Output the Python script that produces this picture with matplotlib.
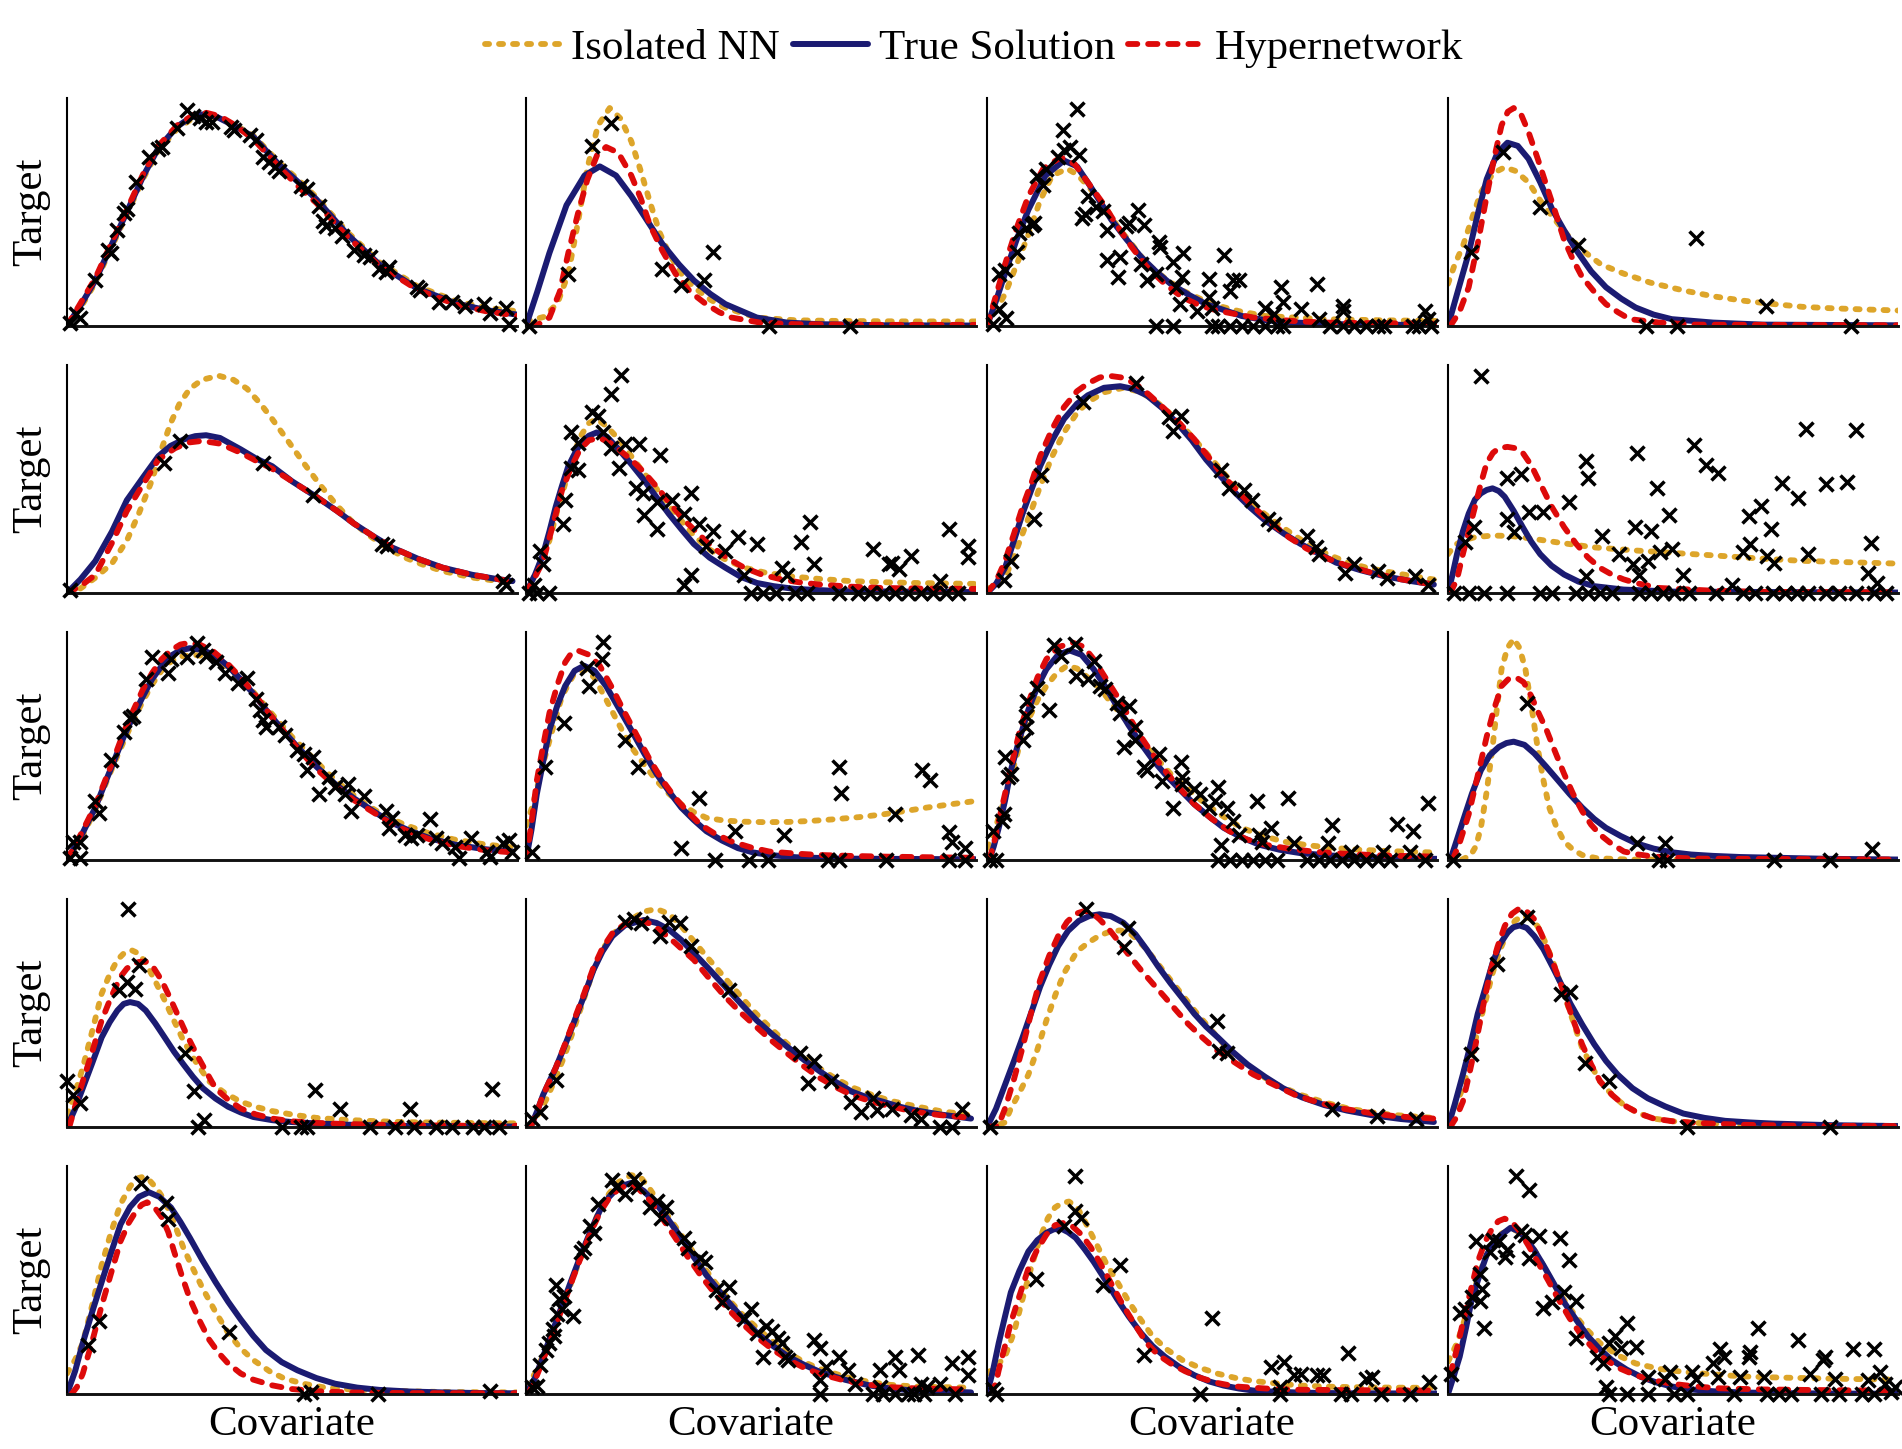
import matplotlib
matplotlib.use("Agg")
import matplotlib.pyplot as plt

plt.rcParams['font.family'] = ['Liberation Serif', 'DejaVu Serif']

# ---------------- data (x: fraction of covariate range, y: fraction of panel height) -------------
LABELS = ["Isolated NN", "True Solution", "Hypernetwork"]
XLABEL = "Covariate"
YLABEL = "Target"

# Row 1
P11_ISO = [(0,0),(.03,.08),(.063,.19),(.1,.35),(.133,.49),(.17,.65),(.203,.77),(.245,.865),(.275,.905),(.31,.92),(.34,.912),(.37,.885),(.414,.835),(.47,.72),(.52,.63),(.554,.565),(.624,.41),(.694,.28),(.778,.175),(.863,.11),(.93,.08),(1.0,.065)]
P11_TRUE = [(0,0),(.03,.09),(.063,.2),(.1,.36),(.133,.5),(.17,.66),(.203,.78),(.245,.875),(.275,.915),(.30,.928),(.33,.92),(.37,.88),(.414,.83),(.47,.71),(.52,.62),(.554,.556),(.624,.40),(.694,.27),(.778,.165),(.863,.10),(.93,.07),(1.0,.05)]
P11_HYP = [(0,0),(.03,.1),(.063,.21),(.1,.37),(.133,.51),(.17,.67),(.203,.79),(.245,.88),(.28,.925),(.31,.935),(.34,.92),(.37,.885),(.414,.82),(.47,.70),(.52,.60),(.554,.54),(.624,.39),(.694,.265),(.778,.16),(.863,.095),(.93,.065),(1.0,.045)]
P11_PTS = [(.007,.015),(.021,.052),(.028,.037),(.063,.2),(.091,.333),(.098,.319),(.112,.422),(.126,.496),(.133,.511),(.154,.63),(.182,.741),(.203,.778),(.21,.785),(.245,.867),(.266,.948),(.281,.919),(.295,.911),(.309,.896),(.323,.896),(.365,.874),(.372,.859),(.407,.837),(.42,.815),(.435,.741),(.449,.719),(.463,.696),(.47,.681),(.519,.615),(.533,.6),(.561,.526),(.568,.459),(.575,.437),(.596,.43),(.61,.393),(.638,.333),(.659,.311),(.673,.304),(.694,.252),(.708,.237),(.715,.259),(.778,.17),(.785,.156),(.827,.104),(.856,.104),(.884,.089),(.926,.096),(.94,.059),(.975,.081),(.982,.007)]

P12_ISO = [(0,.02),(.04,.04),(.07,.1),(.094,.23),(.115,.45),(.136,.69),(.16,.88),(.186,.956),(.21,.91),(.234,.81),(.255,.68),(.276,.54),(.297,.41),(.317,.32),(.345,.23),(.373,.17),(.41,.115),(.443,.08),(.513,.037),(.6,.025),(.7,.022),(.85,.02),(1.0,.02)]
P12_TRUE = [(0,0),(.025,.15),(.052,.32),(.09,.53),(.13,.66),(.164,.70),(.2,.66),(.234,.57),(.27,.46),(.303,.36),(.34,.27),(.373,.20),(.41,.14),(.443,.096),(.513,.037),(.58,.015),(.65,.008),(.8,.003),(1.0,.002)]
P12_HYP = [(.01,0),(.03,.01),(.052,.037),(.075,.15),(.094,.32),(.115,.49),(.136,.64),(.158,.75),(.178,.785),(.205,.76),(.234,.66),(.255,.56),(.276,.44),(.303,.33),(.332,.23),(.365,.15),(.40,.096),(.43,.06),(.457,.037),(.52,.015),(.6,.008),(.8,.005),(1.0,.005)]
P12_PTS = [(.007,0),(.094,.23),(.146,.79),(.188,.89),(.303,.25),(.345,.18),(.395,.20),(.415,.326),(.539,0),(.72,0)]

P13_ISO = [(0,.01),(.02,.07),(.04,.14),(.066,.27),(.09,.39),(.118,.55),(.145,.66),(.178,.69),(.2,.665),(.224,.615),(.26,.53),(.29,.437),(.325,.35),(.355,.274),(.395,.21),(.434,.156),(.473,.12),(.513,.089),(.56,.065),(.618,.044),(.75,.03),(.88,.025),(1.0,.022)]
P13_TRUE = [(0,0),(.02,.11),(.04,.23),(.066,.38),(.092,.51),(.13,.66),(.171,.726),(.2,.70),(.224,.63),(.25,.55),(.276,.467),(.31,.38),(.342,.304),(.375,.24),(.408,.185),(.45,.135),(.487,.096),(.566,.044),(.62,.025),(.684,.015),(.8,.007),(1.0,.004)]
P13_HYP = [(0,0),(.015,.1),(.04,.27),(.066,.43),(.092,.57),(.125,.69),(.164,.74),(.195,.71),(.224,.63),(.257,.54),(.29,.437),(.322,.345),(.355,.26),(.395,.185),(.434,.126),(.473,.09),(.513,.067),(.592,.037),(.68,.022),(.75,.015),(.88,.012),(1.0,.01)]
P13_PTS = [(.013,.007),(.026,.074),(.042,.037),(.026,.23),(.04,.244),(.066,.326),(.072,.407),(.086,.43),(.099,.444),(.105,.452),(.112,.66),(.125,.62),(.132,.69),(.158,.74),(.168,.86),(.171,.77),(.184,.785),(.2,.953),(.204,.748),(.224,.57),(.217,.49),(.21,.474),(.243,.52),(.257,.504),(.266,.42),(.266,.29),(.296,.304),(.292,.215),(.309,.437),(.316,.452),(.336,.51),(.349,.444),(.342,.274),(.355,.2),(.382,.37),(.384,.348),(.375,.23),(.414,.28),(.436,.318),(.421,.17),(.428,.096),(.434,.215),(.466,.067),(.493,.207),(.493,.126),(.5,.081),(.526,.311),(.54,.155),(.546,.2),(.559,.2),(.618,.081),(.638,.052),(.654,.17),(.658,.104),(.697,.074),(.733,.185),(.737,.03),(.79,.089),(.792,.067),(.974,.067),(.98,.03),(.96,0),(.375,0),(.414,0),(.5,0),(.513,0),(.54,0),(.566,0),(.592,0),(.618,0),(.645,0),(.658,0),(.763,0),(.79,0),(.816,0),(.842,0),(.868,0),(.882,0),(.947,0),(.987,0)]

P14_ISO = [(0,.185),(.015,.27),(.033,.35),(.053,.47),(.073,.585),(.1,.67),(.126,.696),(.15,.68),(.179,.63),(.205,.55),(.232,.48),(.265,.40),(.298,.333),(.34,.27),(.39,.23),(.45,.19),(.523,.156),(.59,.13),(.656,.111),(.72,.097),(.788,.084),(.85,.078),(.92,.073),(1.0,.068)]
P14_TRUE = [(0,0),(.02,.14),(.046,.32),(.066,.49),(.086,.644),(.11,.76),(.132,.804),(.155,.79),(.179,.733),(.205,.63),(.232,.51),(.258,.42),(.285,.333),(.318,.24),(.351,.17),(.385,.12),(.417,.081),(.457,.05),(.497,.03),(.589,.015),(.7,.006),(1.0,.003)]
P14_HYP = [(.005,0),(.025,.06),(.046,.17),(.066,.36),(.086,.57),(.103,.74),(.119,.88),(.133,.94),(.146,.956),(.162,.93),(.179,.85),(.2,.73),(.219,.615),(.24,.49),(.258,.378),(.278,.29),(.298,.215),(.325,.15),(.351,.096),(.378,.06),(.404,.03),(.47,.015),(.55,.006),(1.0,.003)]
P14_PTS = [(.05,.326),(.122,.763),(.205,.52),(.288,.356),(.55,.385),(.706,.089),(.44,0),(.509,0),(.895,0)]

# Row 2
P21_ISO = [(0,0),(.03,.02),(.063,.067),(.1,.13),(.133,.23),(.16,.35),(.189,.496),(.21,.63),(.231,.748),(.25,.83),(.273,.896),(.3,.935),(.337,.953),(.37,.935),(.4,.896),(.43,.83),(.456,.763),(.49,.67),(.526,.57),(.56,.48),(.596,.393),(.63,.32),(.666,.26),(.71,.2),(.75,.156),(.79,.125),(.835,.096),(.9,.068),(.99,.044)]
P21_TRUE = [(0,0),(.03,.06),(.063,.14),(.1,.27),(.133,.407),(.17,.51),(.203,.60),(.23,.645),(.26,.674),(.285,.688),(.309,.692),(.34,.68),(.386,.63),(.42,.59),(.456,.556),(.5,.49),(.554,.422),(.6,.36),(.638,.304),(.68,.25),(.722,.20),(.78,.15),(.835,.111),(.9,.08),(.95,.063),(.99,.052)]
P21_HYP = [(0,0),(.03,.03),(.063,.08),(.1,.22),(.133,.36),(.17,.48),(.203,.585),(.24,.635),(.27,.66),(.30,.667),(.34,.655),(.386,.615),(.42,.58),(.456,.545),(.5,.49),(.554,.422),(.6,.36),(.638,.304),(.68,.25),(.722,.2),(.78,.15),(.835,.111),(.9,.08),(.99,.05)]
P21_PTS = [(.007,.015),(.215,.57),(.252,.667),(.435,.57),(.547,.43),(.701,.215),(.711,.207),(.968,.052),(.975,.037)]

P22_ISO = [(0,0),(.025,.1),(.052,.23),(.072,.38),(.094,.526),(.108,.62),(.122,.69),(.14,.745),(.157,.763),(.18,.73),(.206,.674),(.234,.6),(.262,.526),(.297,.44),(.332,.348),(.365,.27),(.401,.2),(.44,.15),(.485,.111),(.53,.09),(.583,.074),(.65,.062),(.723,.052),(.8,.047),(.863,.044),(.93,.042),(1.0,.04)]
P22_TRUE = [(0,0),(.02,.08),(.038,.17),(.052,.27),(.066,.378),(.08,.47),(.094,.556),(.108,.61),(.122,.66),(.14,.69),(.157,.704),(.18,.685),(.206,.63),(.234,.565),(.262,.496),(.29,.42),(.317,.348),(.345,.28),(.373,.215),(.408,.155),(.443,.111),(.478,.07),(.513,.044),(.55,.03),(.597,.018),(.7,.008),(1.0,.004)]
P22_HYP = [(0,0),(.02,.07),(.038,.14),(.06,.3),(.08,.45),(.1,.55),(.12,.63),(.14,.67),(.164,.68),(.19,.655),(.215,.615),(.234,.585),(.262,.53),(.29,.467),(.317,.4),(.345,.333),(.38,.265),(.415,.2),(.45,.15),(.485,.111),(.525,.08),(.569,.059),(.61,.046),(.653,.037),(.72,.028),(.793,.022),(.9,.019),(1.0,.018)]
P22_PTS = [(.21,.956),(.189,.874),(.147,.793),(.161,.778),(.1,.704),(.115,.66),(.1,.548),(.115,.541),(.087,.407),(.083,.304),(.031,.185),(.038,.126),(.017,.037),(.007,0),(.024,0),(.052,0),(.171,.704),(.189,.637),(.22,.652),(.25,.652),(.206,.548),(.297,.607),(.245,.459),(.259,.437),(.29,.4),(.263,.34),(.29,.28),(.324,.407),(.366,.437),(.352,.348),(.385,.304),(.415,.274),(.401,.207),(.366,.081),(.352,.037),(.443,.185),(.471,.244),(.513,.215),(.485,.081),(.569,.111),(.58,.081),(.611,.222),(.632,.311),(.639,.126),(.772,.193),(.807,.126),(.814,.133),(.828,.104),(.856,.163),(.919,.052),(.94,.281),(.982,.207),(.982,.156),(.499,0),(.527,0),(.555,0),(.597,0),(.625,0),(.695,0),(.737,0),(.765,0),(.793,0),(.821,0),(.849,0),(.877,0),(.905,0),(.933,0),(.961,0)]

P23_ISO = [(0,.01),(.013,.037),(.04,.067),(.06,.16),(.079,.26),(.1,.37),(.118,.467),(.145,.6),(.171,.704),(.2,.79),(.224,.837),(.26,.88),(.303,.9),(.335,.885),(.368,.852),(.4,.8),(.434,.733),(.467,.66),(.5,.585),(.533,.51),(.566,.437),(.605,.365),(.645,.304),(.685,.25),(.724,.2),(.765,.163),(.803,.133),(.842,.112),(.882,.096),(.94,.076),(.993,.059)]
P23_TRUE = [(0,0),(.02,.04),(.04,.11),(.06,.23),(.079,.348),(.1,.46),(.118,.556),(.145,.67),(.171,.763),(.2,.83),(.224,.867),(.26,.9),(.296,.907),(.325,.895),(.355,.867),(.39,.81),(.421,.748),(.455,.67),(.487,.585),(.52,.51),(.553,.437),(.585,.375),(.618,.318),(.66,.26),(.697,.215),(.74,.17),(.776,.133),(.83,.1),(.882,.074),(.94,.053),(.993,.037)]
P23_HYP = [(0,0),(.02,.05),(.04,.14),(.06,.26),(.079,.378),(.1,.49),(.118,.6),(.145,.72),(.171,.815),(.2,.885),(.224,.919),(.25,.945),(.27,.953),(.3,.945),(.329,.919),(.36,.87),(.395,.807),(.43,.74),(.461,.674),(.495,.59),(.526,.511),(.56,.44),(.592,.378),(.63,.31),(.671,.244),(.71,.195),(.75,.156),(.8,.12),(.855,.089),(.92,.06),(.993,.037)]
P23_PTS = [(.037,.059),(.053,.14),(.105,.326),(.121,.518),(.214,.837),(.332,.919),(.405,.77),(.414,.711),(.432,.778),(.52,.54),(.537,.459),(.572,.452),(.589,.407),(.625,.326),(.638,.304),(.71,.252),(.73,.2),(.737,.17),(.796,.089),(.816,.126),(.868,.096),(.888,.067),(.95,.074),(.98,.037)]

P24_ISO = [(0,.17),(.015,.21),(.033,.23),(.06,.245),(.099,.252),(.14,.25),(.192,.237),(.25,.22),(.325,.2),(.42,.186),(.523,.173),(.59,.165),(.656,.156),(.72,.148),(.788,.141),(.89,.135),(1.0,.129)]
P24_TRUE = [(0,0),(.01,.08),(.02,.17),(.033,.27),(.046,.348),(.06,.41),(.073,.437),(.086,.452),(.099,.459),(.113,.447),(.126,.422),(.146,.36),(.166,.289),(.185,.225),(.205,.17),(.23,.12),(.258,.081),(.29,.05),(.325,.03),(.39,.015),(.5,.006),(1.0,.002)]
P24_HYP = [(.005,0),(.02,.06),(.033,.17),(.046,.27),(.06,.378),(.073,.48),(.086,.57),(.1,.615),(.113,.635),(.132,.641),(.15,.635),(.166,.615),(.185,.56),(.205,.48),(.23,.38),(.258,.289),(.285,.215),(.311,.156),(.338,.11),(.364,.081),(.39,.06),(.417,.044),(.47,.022),(.589,.01),(.7,.005),(1.0,.003)]
P24_PTS = [(.073,.953),(.037,.222),(.057,.289),(.132,.504),(.163,.523),(.13,.326),(.146,.267),(.179,.356),(.212,.356),(.268,.4),(.307,.578),(.311,.504),(.307,.074),(.342,.252),(.38,.17),(.415,.289),(.421,.615),(.411,.126),(.444,.141),(.45,.274),(.424,.081),(.464,.459),(.49,.341),(.47,.178),(.497,.193),(.523,.081),(.547,.647),(.573,.563),(.6,.526),(.632,.037),(.656,.178),(.672,.215),(.669,.336),(.695,.381),(.717,.281),(.709,.163),(.724,.133),(.742,.481),(.777,.415),(.795,.719),(.801,.173),(.841,.477),(.887,.489),(.907,.716),(.94,.218),(.934,.089),(.954,.044),(.013,0),(.046,0),(.079,0),(.132,0),(.205,0),(.232,0),(.285,0),(.311,0),(.338,0),(.364,0),(.424,0),(.45,0),(.477,0),(.503,0),(.536,0),(.596,0),(.656,0),(.682,0),(.722,0),(.748,0),(.775,0),(.801,0),(.841,0),(.868,0),(.907,0),(.947,0),(.974,0)]

# Row 3
P31_ISO = [(0,0),(.03,.09),(.063,.22),(.085,.33),(.105,.425),(.126,.52),(.147,.61),(.168,.695),(.189,.77),(.21,.83),(.231,.87),(.252,.893),(.28,.9),(.31,.893),(.34,.87),(.37,.825),(.4,.77),(.43,.7),(.46,.63),(.5,.54),(.54,.46),(.58,.38),(.62,.31),(.66,.25),(.7,.2),(.75,.155),(.8,.12),(.86,.09),(.93,.068),(.99,.055)]
P31_TRUE = [(0,0),(.03,.1),(.063,.23),(.085,.34),(.105,.437),(.126,.54),(.147,.63),(.168,.715),(.189,.793),(.21,.85),(.231,.896),(.252,.92),(.273,.929),(.3,.922),(.33,.896),(.358,.85),(.386,.793),(.414,.73),(.442,.659),(.477,.575),(.512,.496),(.554,.41),(.596,.333),(.638,.27),(.68,.215),(.72,.165),(.764,.126),(.81,.093),(.863,.067),(.93,.047),(.99,.037)]
P31_HYP = [(0,0),(.03,.11),(.063,.24),(.085,.35),(.105,.45),(.126,.56),(.147,.655),(.168,.745),(.189,.82),(.21,.88),(.231,.92),(.252,.945),(.27,.952),(.295,.945),(.325,.915),(.355,.865),(.386,.8),(.414,.735),(.442,.66),(.477,.575),(.512,.49),(.554,.4),(.596,.325),(.638,.262),(.68,.21),(.72,.16),(.764,.12),(.81,.088),(.863,.062),(.93,.043),(.99,.033)]
P31_PTS = [(.007,.007),(.028,.007),(.014,.081),(.028,.081),(.063,.26),(.07,.207),(.098,.437),(.126,.563),(.14,.622),(.147,.63),(.175,.793),(.189,.889),(.224,.822),(.231,.881),(.266,.889),(.288,.953),(.302,.919),(.309,.896),(.33,.867),(.351,.822),(.379,.778),(.4,.8),(.421,.704),(.428,.659),(.435,.615),(.442,.585),(.47,.585),(.484,.548),(.512,.481),(.526,.467),(.533,.393),(.547,.452),(.561,.289),(.582,.363),(.596,.319),(.617,.289),(.624,.333),(.631,.215),(.659,.281),(.708,.215),(.722,.185),(.715,.141),(.75,.111),(.764,.096),(.778,.111),(.806,.178),(.82,.096),(.834,.074),(.863,.059),(.87,.007),(.898,.096),(.933,.037),(.94,.015),(.968,.074),(.982,.089),(.989,.037)]

P32_ISO = [(0,.15),(.015,.24),(.038,.422),(.06,.58),(.08,.719),(.105,.81),(.129,.837),(.152,.8),(.178,.704),(.205,.6),(.234,.496),(.262,.42),(.29,.348),(.318,.29),(.345,.244),(.373,.21),(.401,.185),(.44,.173),(.485,.168),(.53,.166),(.583,.167),(.63,.171),(.681,.178),(.74,.188),(.793,.2),(.84,.214),(.891,.23),(.95,.246),(1.0,.259)]
P32_TRUE = [(0,0),(.012,.13),(.024,.289),(.038,.43),(.052,.57),(.07,.68),(.087,.763),(.108,.83),(.129,.852),(.152,.83),(.178,.763),(.205,.67),(.234,.57),(.262,.47),(.29,.378),(.318,.3),(.345,.23),(.373,.175),(.401,.126),(.436,.085),(.471,.052),(.505,.033),(.541,.022),(.6,.012),(.7,.006),(1.0,.003)]
P32_HYP = [(0,0),(.012,.16),(.024,.348),(.038,.5),(.052,.644),(.07,.77),(.087,.867),(.1,.905),(.115,.919),(.14,.9),(.164,.852),(.19,.76),(.22,.644),(.248,.54),(.276,.437),(.303,.35),(.331,.274),(.36,.21),(.387,.156),(.42,.115),(.457,.081),(.5,.055),(.541,.037),(.6,.028),(.653,.022),(.72,.018),(.793,.015),(.9,.012),(1.0,.01)]
P32_PTS = [(.014,.037),(.042,.407),(.084,.6),(.14,.763),(.136,.844),(.168,.881),(.171,.956),(.22,.526),(.248,.407),(.385,.274),(.345,.052),(.42,0),(.464,.126),(.496,0),(.538,0),(.573,.111),(.67,0),(.695,.41),(.7,.296),(.695,0),(.8,0),(.821,.203),(.88,.393),(.898,.351),(.94,.123),(.947,.081),(.975,.052),(.94,0),(.975,0)]

P33_ISO = [(0,.052),(.013,.11),(.026,.185),(.04,.27),(.053,.363),(.072,.5),(.092,.615),(.112,.7),(.132,.763),(.155,.82),(.178,.852),(.2,.84),(.224,.8),(.25,.755),(.276,.689),(.31,.61),(.342,.526),(.375,.45),(.408,.378),(.447,.31),(.487,.244),(.526,.19),(.566,.141),(.61,.108),(.658,.081),(.716,.064),(.776,.052),(.83,.045),(.882,.04),(.94,.036),(.993,.033)]
P33_TRUE = [(.005,0),(.015,.06),(.026,.14),(.04,.26),(.053,.393),(.072,.53),(.092,.659),(.112,.76),(.132,.837),(.158,.9),(.184,.919),(.21,.9),(.237,.837),(.263,.76),(.289,.674),(.315,.59),(.342,.511),(.368,.44),(.395,.378),(.428,.31),(.461,.244),(.494,.19),(.526,.141),(.565,.1),(.605,.067),(.65,.045),(.697,.03),(.76,.02),(.816,.015),(.9,.008),(1.0,.005)]
P33_HYP = [(.005,0),(.015,.07),(.026,.17),(.04,.29),(.053,.407),(.072,.56),(.092,.689),(.112,.8),(.132,.881),(.16,.935),(.191,.953),(.215,.935),(.237,.881),(.263,.8),(.289,.719),(.315,.63),(.342,.541),(.368,.465),(.395,.393),(.428,.315),(.461,.244),(.5,.18),(.539,.126),(.578,.09),(.618,.067),(.67,.05),(.724,.037),(.79,.028),(.855,.022),(.92,.018),(.993,.015)]
P33_PTS = [(.007,0),(.02,0),(.013,.126),(.033,.17),(.037,.2),(.046,.363),(.053,.378),(.039,.452),(.079,.526),(.086,.585),(.086,.63),(.089,.696),(.112,.756),(.138,.659),(.149,.941),(.164,.896),(.195,.948),(.197,.807),(.224,.793),(.237,.874),(.25,.763),(.263,.748),(.289,.689),(.296,.644),(.316,.674),(.305,.496),(.329,.585),(.329,.526),(.349,.407),(.355,.393),(.382,.467),(.388,.348),(.414,.23),(.434,.363),(.432,.43),(.434,.333),(.461,.311),(.474,.289),(.493,.23),(.507,.259),(.513,.319),(.533,.23),(.546,.17),(.52,.067),(.559,.111),(.601,.259),(.605,.111),(.612,.081),(.632,.141),(.668,.274),(.682,.074),(.757,.074),(.767,.153),(.809,.037),(.879,.037),(.912,.156),(.947,.126),(.941,.037),(.98,.252),(.513,0),(.539,0),(.566,0),(.592,0),(.618,0),(.645,0),(.711,0),(.737,0),(.763,0),(.789,0),(.816,0),(.842,0),(.868,0),(.895,0),(.974,0)]

P34_ISO = [(0,0),(.03,.001),(.05,.02),(.062,.06),(.073,.141),(.086,.3),(.099,.496),(.109,.67),(.119,.837),(.132,.93),(.146,.97),(.159,.93),(.172,.837),(.185,.68),(.199,.496),(.212,.35),(.225,.23),(.24,.15),(.258,.081),(.278,.045),(.298,.022),(.33,.008),(.4,.002),(1.0,0)]
P34_TRUE = [(.005,0),(.02,.09),(.033,.17),(.053,.29),(.073,.393),(.093,.46),(.113,.496),(.13,.513),(.146,.519),(.17,.505),(.192,.467),(.218,.41),(.245,.348),(.27,.29),(.298,.23),(.325,.18),(.351,.141),(.384,.105),(.417,.074),(.457,.05),(.497,.034),(.54,.024),(.589,.018),(.65,.013),(.722,.01),(.85,.005),(1.0,.002)]
P34_HYP = [(.01,0),(.025,.07),(.046,.2),(.066,.37),(.086,.541),(.102,.66),(.119,.763),(.135,.795),(.152,.8),(.168,.78),(.185,.719),(.2,.65),(.219,.57),(.238,.475),(.258,.378),(.278,.29),(.298,.215),(.318,.155),(.338,.111),(.364,.07),(.391,.037),(.42,.025),(.457,.015),(.55,.006),(1.0,.002)]
P34_PTS = [(.011,0),(.176,.689),(.42,.074),(.483,.074),(.468,0),(.486,0),(.725,0),(.849,0),(.943,.047)]

# Row 4
P41_ISO = [(0,.052),(.018,.15),(.035,.26),(.056,.42),(.077,.585),(.095,.67),(.112,.733),(.128,.765),(.144,.775),(.16,.76),(.175,.719),(.196,.64),(.217,.556),(.238,.465),(.259,.378),(.288,.28),(.316,.2),(.35,.15),(.386,.111),(.42,.088),(.456,.07),(.505,.053),(.554,.04),(.62,.031),(.694,.025),(.76,.021),(.835,.019),(.92,.017),(.996,.016)]
P41_TRUE = [(0,0),(.018,.08),(.035,.17),(.056,.28),(.077,.393),(.095,.46),(.112,.511),(.126,.54),(.14,.548),(.158,.54),(.175,.511),(.196,.455),(.217,.393),(.238,.33),(.259,.274),(.28,.22),(.302,.17),(.33,.125),(.358,.089),(.386,.064),(.414,.044),(.456,.03),(.498,.022),(.56,.015),(.624,.01),(.75,.005),(1.0,.002)]
P41_HYP = [(.005,0),(.018,.09),(.035,.2),(.056,.33),(.077,.467),(.098,.57),(.119,.659),(.133,.695),(.147,.716),(.16,.724),(.175,.726),(.192,.7),(.21,.644),(.228,.57),(.245,.496),(.266,.405),(.288,.319),(.31,.24),(.33,.17),(.358,.12),(.386,.081),(.42,.055),(.456,.037),(.5,.025),(.554,.018),(.62,.013),(.694,.01),(.85,.006),(1.0,.005)]
P41_PTS = [(0,.2),(.014,.141),(.028,.104),(.136,.958),(.116,.6),(.133,.637),(.15,.607),(.161,.711),(.262,.326),(.283,.156),(.29,0),(.304,.03),(.477,0),(.519,0),(.533,0),(.551,.163),(.606,.081),(.673,0),(.729,0),(.762,.081),(.771,0),(.82,0),(.856,0),(.902,0),(.926,0),(.944,.167),(.961,0)]

P42_ISO = [(.01,0),(.025,.05),(.045,.12),(.066,.215),(.087,.32),(.108,.44),(.13,.57),(.15,.689),(.17,.78),(.2,.86),(.234,.911),(.262,.945),(.29,.956),(.318,.935),(.345,.881),(.373,.815),(.401,.748),(.435,.67),(.47,.59),(.505,.51),(.54,.44),(.575,.375),(.61,.315),(.65,.26),(.69,.21),(.73,.17),(.77,.14),(.81,.115),(.863,.092),(.92,.07),(.99,.052)]
P42_TRUE = [(.01,0),(.025,.07),(.038,.141),(.052,.2),(.066,.259),(.087,.36),(.108,.467),(.13,.58),(.15,.689),(.17,.77),(.192,.837),(.22,.885),(.262,.908),(.29,.895),(.317,.867),(.345,.82),(.373,.763),(.408,.69),(.443,.615),(.478,.54),(.513,.467),(.548,.405),(.583,.348),(.618,.294),(.653,.244),(.688,.198),(.723,.156),(.758,.13),(.793,.111),(.828,.09),(.863,.074),(.92,.055),(.989,.037)]
P42_HYP = [(.01,0),(.025,.07),(.038,.141),(.052,.2),(.066,.259),(.087,.365),(.108,.475),(.13,.59),(.15,.7),(.17,.785),(.192,.85),(.22,.89),(.248,.904),(.275,.893),(.3,.86),(.33,.81),(.352,.77),(.373,.733),(.408,.65),(.443,.57),(.478,.5),(.513,.437),(.548,.375),(.583,.319),(.618,.265),(.653,.215),(.688,.175),(.723,.141),(.77,.11),(.81,.09),(.863,.067),(.92,.052),(.99,.04)]
P42_PTS = [(.014,.037),(.031,.064),(.066,.207),(.22,.899),(.241,.911),(.255,.896),(.297,.837),(.317,.899),(.343,.896),(.366,.793),(.45,.6),(.608,.326),(.639,.289),(.627,.193),(.678,.2),(.723,.111),(.744,.067),(.772,.126),(.779,.074),(.814,.081),(.856,.052),(.877,.037),(.919,0),(.947,0),(.968,.081)]

P43_ISO = [(0,0),(.02,.005),(.04,.02),(.053,.081),(.072,.15),(.092,.23),(.112,.34),(.132,.467),(.152,.58),(.171,.674),(.2,.77),(.224,.807),(.25,.84),(.276,.859),(.296,.862),(.316,.852),(.335,.82),(.355,.778),(.38,.715),(.408,.644),(.434,.58),(.461,.511),(.494,.435),(.526,.363),(.566,.29),(.605,.23),(.65,.18),(.697,.141),(.75,.108),(.803,.081),(.855,.064),(.908,.052),(.993,.04)]
P43_TRUE = [(0,0),(.02,.08),(.04,.185),(.06,.29),(.079,.393),(.098,.5),(.118,.615),(.138,.71),(.158,.793),(.18,.86),(.204,.904),(.228,.926),(.25,.933),(.275,.925),(.303,.896),(.33,.845),(.355,.778),(.38,.705),(.408,.63),(.434,.565),(.461,.496),(.487,.44),(.513,.393),(.546,.33),(.579,.274),(.618,.22),(.658,.17),(.7,.13),(.75,.096),(.8,.072),(.855,.052),(.92,.035),(.993,.022)]
P43_HYP = [(0,0),(.025,.005),(.04,.081),(.06,.21),(.079,.348),(.098,.5),(.118,.644),(.138,.75),(.158,.837),(.178,.9),(.197,.935),(.217,.948),(.233,.94),(.25,.911),(.27,.87),(.289,.822),(.315,.755),(.342,.689),(.368,.63),(.395,.57),(.421,.51),(.447,.452),(.48,.39),(.513,.333),(.553,.28),(.592,.23),(.638,.185),(.684,.141),(.735,.108),(.789,.081),(.85,.062),(.908,.047),(.993,.037)]
P43_PTS = [(.007,0),(.22,.958),(.313,.874),(.305,.79),(.511,.464),(.516,.333),(.533,.326),(.767,.081),(.866,.049),(.954,.037)]

P44_ISO = [(0,.03),(.015,.09),(.033,.17),(.05,.29),(.066,.422),(.083,.55),(.099,.674),(.115,.775),(.132,.852),(.149,.905),(.166,.926),(.182,.915),(.199,.881),(.215,.815),(.232,.733),(.248,.64),(.265,.541),(.282,.44),(.298,.348),(.318,.27),(.338,.2),(.365,.14),(.391,.096),(.424,.06),(.457,.037),(.5,.025),(.55,.018),(.65,.01),(.8,.006),(1.0,.005)]
P44_TRUE = [(0,0),(.015,.1),(.033,.23),(.05,.36),(.066,.496),(.083,.61),(.099,.719),(.115,.8),(.132,.852),(.145,.876),(.159,.884),(.175,.873),(.192,.837),(.212,.78),(.232,.704),(.252,.625),(.272,.541),(.298,.45),(.325,.363),(.351,.29),(.377,.23),(.41,.17),(.444,.126),(.483,.09),(.523,.059),(.57,.04),(.616,.027),(.67,.02),(.722,.015),(.85,.008),(1.0,.004)]
P44_HYP = [(.005,0),(.018,.04),(.033,.111),(.047,.23),(.06,.348),(.077,.52),(.093,.674),(.11,.79),(.126,.881),(.142,.935),(.159,.959),(.175,.945),(.192,.911),(.208,.845),(.225,.763),(.242,.675),(.258,.585),(.278,.47),(.298,.363),(.318,.275),(.338,.2),(.365,.14),(.391,.096),(.424,.06),(.457,.037),(.5,.025),(.55,.018),(.65,.01),(.8,.005),(1.0,.004)]
P44_PTS = [(.05,.319),(.109,.714),(.176,.919),(.252,.585),(.272,.593),(.305,.281),(.358,.2),(.53,0),(.848,0)]

# Row 5
P51_ISO = [(0,.09),(.018,.15),(.035,.223),(.056,.39),(.077,.565),(.098,.71),(.119,.833),(.14,.91),(.155,.945),(.168,.952),(.182,.94),(.2,.9),(.217,.848),(.238,.75),(.259,.64),(.28,.55),(.302,.461),(.33,.36),(.358,.268),(.386,.2),(.414,.149),(.45,.1),(.484,.067),(.526,.045),(.568,.03),(.63,.02),(.694,.015),(.8,.01),(.9,.008),(1.0,.007)]
P51_TRUE = [(0,0),(.018,.1),(.035,.223),(.056,.36),(.077,.491),(.098,.62),(.119,.744),(.14,.82),(.16,.865),(.182,.885),(.205,.865),(.231,.818),(.252,.755),(.273,.685),(.3,.59),(.33,.491),(.358,.405),(.386,.327),(.414,.255),(.442,.193),(.477,.14),(.512,.104),(.554,.07),(.596,.045),(.645,.028),(.694,.018),(.76,.011),(.834,.007),(.92,.004),(1.0,.003)]
P51_HYP = [(.01,0),(.022,.03),(.035,.089),(.056,.23),(.077,.387),(.098,.53),(.119,.67),(.137,.75),(.154,.804),(.166,.83),(.178,.841),(.194,.82),(.211,.774),(.225,.71),(.238,.625),(.255,.52),(.273,.417),(.295,.32),(.316,.238),(.337,.18),(.358,.134),(.386,.09),(.414,.063),(.456,.038),(.498,.022),(.56,.012),(.624,.007),(.75,.004),(1.0,.003)]
P51_PTS = [(.046,.216),(.07,.32),(.164,.926),(.22,.836),(.224,.766),(.36,.271),(.526,0),(.543,.01),(.69,0),(.94,.015)]

P52_ISO = [(0,.03),(.02,.09),(.038,.17),(.059,.27),(.08,.38),(.101,.49),(.122,.6),(.143,.71),(.164,.81),(.185,.88),(.206,.93),(.234,.96),(.255,.95),(.275,.9),(.3,.825),(.33,.74),(.36,.655),(.39,.57),(.42,.49),(.45,.415),(.48,.35),(.513,.29),(.548,.23),(.583,.18),(.618,.14),(.653,.11),(.71,.075),(.765,.052),(.81,.04),(.863,.033),(.93,.03),(.989,.028)]
P52_TRUE = [(0,0),(.02,.07),(.038,.164),(.059,.275),(.08,.387),(.101,.5),(.122,.61),(.143,.712),(.164,.804),(.185,.865),(.206,.908),(.234,.926),(.262,.89),(.29,.833),(.318,.76),(.345,.685),(.373,.6),(.401,.521),(.43,.45),(.457,.387),(.485,.325),(.513,.268),(.548,.212),(.583,.164),(.618,.128),(.653,.097),(.71,.062),(.765,.037),(.81,.024),(.863,.015),(.93,.01),(.989,.007)]
P52_HYP = [(.005,0),(.02,.06),(.038,.15),(.059,.26),(.08,.375),(.101,.49),(.122,.6),(.143,.705),(.164,.795),(.185,.86),(.206,.9),(.227,.917),(.25,.9),(.275,.85),(.3,.78),(.33,.69),(.36,.6),(.39,.515),(.42,.44),(.45,.37),(.48,.31),(.513,.25),(.548,.195),(.583,.15),(.618,.115),(.653,.088),(.71,.058),(.765,.04),(.81,.03),(.863,.025),(.93,.022),(.989,.02)]
P52_PTS = [(.014,.03),(.024,.037),(.031,.126),(.045,.193),(.052,.223),(.063,.253),(.073,.417),(.066,.476),(.08,.372),(.069,.35),(.084,.432),(.105,.342),(.059,.283),(.122,.625),(.129,.64),(.143,.737),(.15,.707),(.161,.833),(.192,.938),(.2,.908),(.22,.878),(.241,.945),(.248,.908),(.276,.818),(.29,.848),(.3,.774),(.311,.818),(.352,.685),(.359,.64),(.387,.595),(.398,.58),(.422,.454),(.45,.469),(.436,.402),(.485,.327),(.499,.372),(.513,.268),(.527,.164),(.533,.298),(.547,.275),(.561,.246),(.569,.223),(.576,.164),(.583,.149),(.639,.238),(.653,.201),(.653,.06),(.667,.119),(.695,.164),(.716,.104),(.73,.045),(.786,.104),(.786,.03),(.828,.104),(.821,.164),(.87,.171),(.877,.045),(.891,.03),(.919,.045),(.947,.134),(.982,.164),(.982,.082),(.653,0),(.772,0),(.793,0),(.821,0),(.849,0),(.863,0),(.884,0),(.954,0)]

P53_ISO = [(0,.09),(.02,.12),(.04,.164),(.06,.27),(.079,.417),(.099,.56),(.118,.685),(.135,.77),(.151,.818),(.167,.838),(.182,.844),(.2,.82),(.217,.759),(.24,.67),(.263,.58),(.29,.49),(.316,.402),(.342,.325),(.368,.253),(.4,.195),(.434,.149),(.473,.115),(.513,.089),(.553,.07),(.592,.057),(.645,.046),(.697,.037),(.76,.032),(.816,.03),(.9,.028),(.993,.027)]
P53_TRUE = [(0,0),(.013,.1),(.026,.223),(.04,.34),(.053,.446),(.072,.54),(.092,.625),(.112,.675),(.132,.707),(.148,.722),(.164,.726),(.18,.71),(.197,.685),(.217,.635),(.237,.58),(.263,.5),(.289,.417),(.315,.34),(.342,.268),(.368,.21),(.395,.164),(.428,.118),(.461,.082),(.494,.055),(.526,.037),(.56,.024),(.592,.015),(.64,.01),(.697,.006),(.8,.003),(1.0,.002)]
P53_HYP = [(.01,0),(.02,.05),(.026,.104),(.04,.21),(.053,.313),(.072,.43),(.092,.551),(.112,.635),(.132,.699),(.151,.74),(.171,.751),(.19,.735),(.21,.699),(.23,.645),(.25,.58),(.276,.485),(.303,.387),(.33,.3),(.355,.223),(.38,.172),(.408,.134),(.44,.1),(.474,.071),(.513,.048),(.553,.033),(.62,.024),(.684,.019),(.8,.017),(.9,.016),(.993,.015)]
P53_PTS = [(.013,.022),(.02,0),(.108,.506),(.171,.737),(.195,.955),(.195,.804),(.208,.774),(.257,.476),(.296,.565),(.349,.171),(.474,0),(.5,.335),(.632,.119),(.651,0),(.661,.141),(.682,.082),(.697,.089),(.734,.082),(.747,.082),(.787,0),(.803,.179),(.809,0),(.842,.067),(.855,.074),(.875,0),(.941,0),(.982,.052),(.651,.03)]

P54_ISO = [(0,.141),(.02,.223),(.036,.32),(.053,.432),(.07,.53),(.086,.61),(.103,.67),(.12,.705),(.146,.722),(.162,.705),(.179,.67),(.199,.61),(.219,.536),(.245,.45),(.272,.372),(.305,.29),(.338,.223),(.377,.17),(.417,.134),(.47,.11),(.523,.097),(.59,.086),(.656,.077),(.72,.073),(.788,.07),(.89,.066),(1.0,.063)]
P54_TRUE = [(0,0),(.013,.08),(.026,.164),(.04,.29),(.053,.417),(.07,.52),(.086,.61),(.103,.665),(.119,.699),(.139,.729),(.156,.715),(.172,.685),(.192,.63),(.212,.565),(.235,.485),(.258,.402),(.285,.325),(.311,.253),(.338,.195),(.364,.149),(.397,.107),(.43,.074),(.464,.05),(.497,.033),(.54,.02),(.589,.012),(.65,.007),(.722,.004),(.85,.002),(1.0,.001)]
P54_HYP = [(0,.09),(.007,.1),(.02,.2),(.033,.313),(.05,.45),(.066,.58),(.083,.67),(.099,.729),(.112,.758),(.126,.769),(.142,.755),(.159,.714),(.179,.65),(.199,.58),(.222,.5),(.245,.417),(.27,.333),(.298,.253),(.325,.195),(.351,.149),(.384,.11),(.417,.082),(.457,.06),(.497,.045),(.55,.033),(.603,.025),(.7,.02),(.788,.018),(.9,.016),(1.0,.015)]
P54_PTS = [(.007,.089),(.026,.357),(.037,.372),(.053,.424),(.062,.673),(.07,.409),(.075,.461),(.07,.528),(.079,.29),(.093,.625),(.099,.677),(.113,.67),(.126,.603),(.132,.632),(.15,.955),(.179,.893),(.163,.714),(.172,.699),(.18,.595),(.203,.692),(.248,.685),(.269,.588),(.212,.379),(.232,.402),(.258,.446),(.285,.409),(.285,.246),(.331,.164),(.344,.134),(.358,.223),(.371,.253),(.384,.201),(.397,.313),(.417,.208),(.351,.03),(.358,0),(.397,0),(.444,0),(.444,.074),(.483,.067),(.494,.097),(.503,0),(.53,0),(.543,.097),(.552,.067),(.589,.134),(.6,.074),(.605,.196),(.613,.164),(.636,0),(.649,.074),(.669,.164),(.672,.186),(.689,.29),(.702,.074),(.709,0),(.735,0),(.762,0),(.777,.238),(.804,.089),(.834,.149),(.837,.164),(.828,0),(.861,.067),(.868,0),(.901,.196),(.921,0),(.934,.06),(.947,.196),(.96,.097),(.971,.045),(.984,.007),(.993,.03),(.947,0)]

PANELS = [
    [(P11_ISO, P11_TRUE, P11_HYP, P11_PTS), (P12_ISO, P12_TRUE, P12_HYP, P12_PTS),
     (P13_ISO, P13_TRUE, P13_HYP, P13_PTS), (P14_ISO, P14_TRUE, P14_HYP, P14_PTS)],
    [(P21_ISO, P21_TRUE, P21_HYP, P21_PTS), (P22_ISO, P22_TRUE, P22_HYP, P22_PTS),
     (P23_ISO, P23_TRUE, P23_HYP, P23_PTS), (P24_ISO, P24_TRUE, P24_HYP, P24_PTS)],
    [(P31_ISO, P31_TRUE, P31_HYP, P31_PTS), (P32_ISO, P32_TRUE, P32_HYP, P32_PTS),
     (P33_ISO, P33_TRUE, P33_HYP, P33_PTS), (P34_ISO, P34_TRUE, P34_HYP, P34_PTS)],
    [(P41_ISO, P41_TRUE, P41_HYP, P41_PTS), (P42_ISO, P42_TRUE, P42_HYP, P42_PTS),
     (P43_ISO, P43_TRUE, P43_HYP, P43_PTS), (P44_ISO, P44_TRUE, P44_HYP, P44_PTS)],
    [(P51_ISO, P51_TRUE, P51_HYP, P51_PTS), (P52_ISO, P52_TRUE, P52_HYP, P52_PTS),
     (P53_ISO, P53_TRUE, P53_HYP, P53_PTS), (P54_ISO, P54_TRUE, P54_HYP, P54_PTS)],
]

# ---------------- styling ----------------
C_ISO = "#DDA52A"
C_TRUE = "#1B1B72"
C_HYP = "#DD0A0A"
FS = 31

W_PX, H_PX = 1902, 1449
LEFTS = [67, 526, 987, 1448]
TOPS = [98, 365, 632, 899, 1166]
AX_W, AX_H = 450, 228

fig = plt.figure(figsize=(W_PX / 100, H_PX / 100), dpi=100)


def unzip(pairs):
    return [p[0] for p in pairs], [p[1] for p in pairs]


handles = None
for r, row in enumerate(PANELS):
    for c, (iso, true, hyp, pts) in enumerate(row):
        ax = fig.add_axes([LEFTS[c] / W_PX, 1 - (TOPS[r] + AX_H) / H_PX, AX_W / W_PX, AX_H / H_PX])
        x, y = unzip(iso)
        l1, = ax.plot(x, y, color=C_ISO, lw=4.2, linestyle=(0, (0.7, 1.7)),
                      dash_capstyle='round', solid_joinstyle='round', zorder=2)
        x, y = unzip(true)
        l2, = ax.plot(x, y, color=C_TRUE, lw=4.3, solid_capstyle='round',
                      solid_joinstyle='round', zorder=2.1)
        x, y = unzip(hyp)
        l3, = ax.plot(x, y, color=C_HYP, lw=4.2, linestyle=(0, (1.6, 1.85)),
                      dash_capstyle='round', solid_joinstyle='round', zorder=2.2)
        x, y = unzip(pts)
        ax.plot(x, y, linestyle='none', marker='x', color='black', ms=10, mew=2.5,
                clip_on=False, zorder=4)
        if handles is None:
            handles = [l1, l2, l3]
        ax.set_xlim(0, 1)
        ax.set_ylim(0, 1)
        ax.set_xticks([])
        ax.set_yticks([])
        for s in ('top', 'right'):
            ax.spines[s].set_visible(False)
        ax.spines['left'].set_linewidth(1.5)
        ax.spines['bottom'].set_linewidth(2.1)
        ax.spines['left'].set_color('black')
        ax.spines['bottom'].set_color('#111111')
        if c == 0:
            ax.set_ylabel(YLABEL, fontsize=FS, labelpad=12)
        if r == len(PANELS) - 1:
            ax.set_xlabel(XLABEL, fontsize=FS, labelpad=8)

fig.legend(handles, LABELS, loc='center', bbox_to_anchor=(0.512, 0.9665), ncol=3,
           frameon=False, fontsize=FS, handlelength=1.75, handletextpad=0.25,
           columnspacing=0.3, borderaxespad=0)

fig.savefig("out.png", dpi=100)
